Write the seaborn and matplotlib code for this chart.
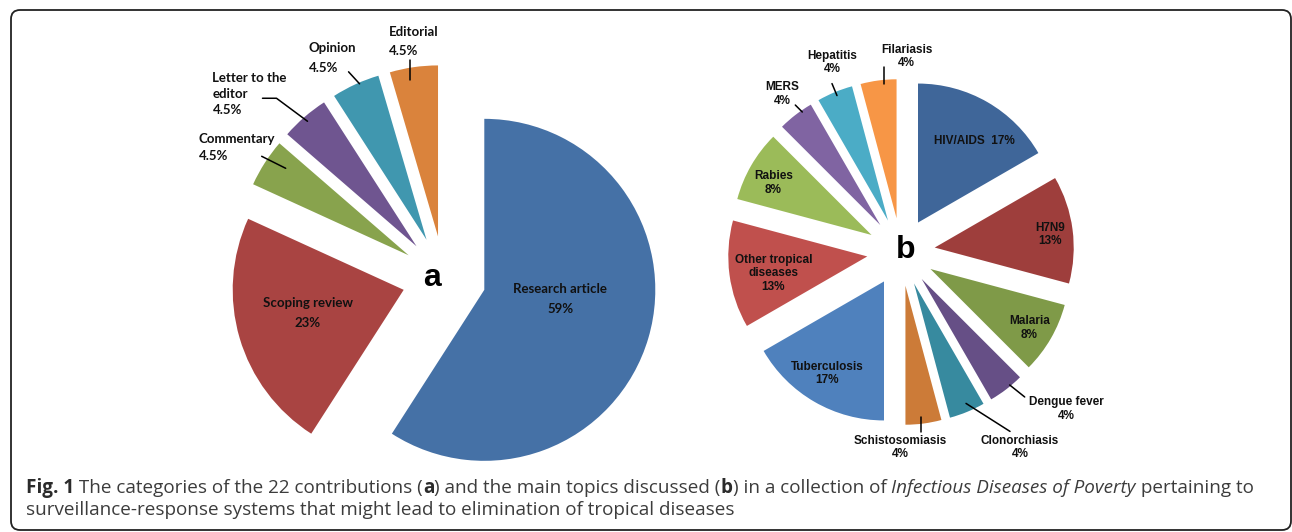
import matplotlib
matplotlib.use("Agg")
import matplotlib.pyplot as plt
import seaborn as sns
import numpy as np
from matplotlib import font_manager
from matplotlib.patches import FancyBboxPatch

# (a) categories of the 22 contributions
cat_labels = ["Research article", "Scoping review", "Commentary",
              "Letter to the\neditor", "Opinion", "Editorial"]
cat_counts = [13, 5, 1, 1, 1, 1]
cat_pct = ["59%", "23%", "4.5%", "4.5%", "4.5%", "4.5%"]
cat_colors = ["#4571A6", "#A94442", "#88A34D", "#6F5590", "#4097AF", "#DA833C"]

# (b) main topics discussed (24 topic mentions)
topic_labels = ["HIV/AIDS", "H7N9", "Malaria", "Dengue fever", "Clonorchiasis",
                "Schistosomiasis", "Tuberculosis", "Other tropical\ndiseases",
                "Rabies", "MERS", "Hepatitis", "Filariasis"]
topic_counts = [4, 3, 2, 1, 1, 1, 4, 3, 2, 1, 1, 1]
topic_pct = ["17%", "13%", "8%", "4%", "4%", "4%",
             "17%", "13%", "8%", "4%", "4%", "4%"]
topic_colors = ["#3F6699", "#9E3E3C", "#7F9A48", "#664F86", "#378A9F", "#CC7B38",
                "#4F81BD", "#C0504D", "#9BBB59", "#8064A2", "#4BACC6", "#F79646"]

W, H = 1292, 532

sns.set_theme(style="white")
installed = {f.name for f in font_manager.fontManager.ttflist}
cap_font = "Open Sans" if "Open Sans" in installed else "DejaVu Sans"
a_font = "Lato" if "Lato" in installed else "DejaVu Sans"
b_font = "Liberation Sans" if "Liberation Sans" in installed else "DejaVu Sans"
plt.rcParams["font.family"] = [b_font, "DejaVu Sans"]

fig = plt.figure(figsize=(W / 100, H / 100), dpi=100)
ax = fig.add_axes([0, 0, 1, 1])

# panel a pie (explode is in data units = pixels here)
wedges_a, _ = ax.pie(cat_counts, colors=sns.color_palette(cat_colors),
                     startangle=90, counterclock=False,
                     explode=[42] * len(cat_counts),
                     center=(444, H - 278), radius=171,
                     wedgeprops=dict(linewidth=0))

# panel b pie
wedges_b, _ = ax.pie(topic_counts, colors=sns.color_palette(topic_colors),
                     startangle=90, counterclock=False,
                     explode=[34] * len(topic_counts),
                     center=(901, H - 252), radius=139,
                     wedgeprops=dict(linewidth=0))

ax.set_xlim(0, W)
ax.set_ylim(0, H)
ax.set_aspect("auto")
ax.axis("off")

# label placement, offsets from each wedge tip (pixels), and leader lines
a_place = [
    dict(off=(76, -9), ha="center", ls=1.75),
    dict(off=(-96, -23), ha="center", ls=1.75),
    dict(off=(-210, 108), ha="left", ls=1.45, lead=[(-147, 99), (-123, 87)]),
    dict(off=(-204, 152), ha="left", ls=1.4,
         lead=[(-154, 148), (-140, 148), (-109, 125)]),
    dict(off=(-118, 182), ha="left", ls=1.75, lead=[(-78, 168), (-67, 156)]),
    dict(off=(-49, 195), ha="left", ls=1.75, lead=[(-28, 176), (-28, 156)]),
]
b_place = [
    dict(off=(56, 82), one_line=True),
    dict(off=(115, 13)),
    dict(off=(99, -59)),
    dict(off=(145, -130), lead=[(88, -106), (103, -118)]),
    dict(off=(106, -164), lead=[(52, -120), (96, -148)]),
    dict(off=(-5, -162), lead=[(16, -131), (16, -146)]),
    dict(off=(-57, -92)),
    dict(off=(-94, -17)),
    dict(off=(-98, 52)),
    dict(off=(-98, 131), lead=[(-85, 120), (-78, 113)]),
    dict(off=(-56, 158), lead=[(-56, 137), (-51, 125)]),
    dict(off=(10, 162), lead=[(-13, 151), (-13, 134)]),
]

label_color = "#111111"

for w, lab, pct, p in zip(wedges_a, cat_labels, cat_pct, a_place):
    cx, cy = w.center
    ax.text(cx + p["off"][0], cy + p["off"][1], lab + "\n" + pct,
            ha=p["ha"], va="center", multialignment=p["ha"],
            fontsize=9.5, fontweight="bold", family=a_font,
            linespacing=p["ls"], color=label_color)
    if "lead" in p:
        xs = [cx + dx for dx, dy in p["lead"]]
        ys = [cy + dy for dx, dy in p["lead"]]
        ax.plot(xs, ys, color="black", lw=1.1)

for w, lab, pct, p in zip(wedges_b, topic_labels, topic_pct, b_place):
    cx, cy = w.center
    txt = lab + "  " + pct if p.get("one_line") else lab + "\n" + pct
    ax.text(cx + p["off"][0], cy + p["off"][1], txt,
            ha="center", va="center", multialignment="center",
            fontsize=8.5, fontweight="bold", family=b_font,
            linespacing=1.15, color=label_color)
    if "lead" in p:
        xs = [cx + dx for dx, dy in p["lead"]]
        ys = [cy + dy for dx, dy in p["lead"]]
        ax.plot(xs, ys, color="black", lw=1.1)

# panel letters
ax.text(432, H - 278, "a", ha="center", va="center", fontsize=23,
        fontweight="bold", family=b_font, color="black")
ax.text(906, H - 250, "b", ha="center", va="center", fontsize=23,
        fontweight="bold", family=b_font, color="black")

# rounded frame
frame = FancyBboxPatch((11, 2), W - 12, H - 12,
                       boxstyle="round,pad=0,rounding_size=9",
                       transform=ax.transData, fill=False,
                       edgecolor="#222222", lw=1.3, clip_on=False)
ax.add_patch(frame)

# caption with mixed styles
line1 = [("Fig. 1", "bold", "normal"),
         (" The categories of the 22 contributions (", "normal", "normal"),
         ("a", "bold", "normal"),
         (") and the main topics discussed (", "normal", "normal"),
         ("b", "bold", "normal"),
         (") in a collection of ", "normal", "normal"),
         ("Infectious Diseases of Poverty", "normal", "italic"),
         (" pertaining to", "normal", "normal")]
line2 = [("surveillance-response systems that might lead to elimination of tropical diseases",
          "normal", "normal")]

renderer = fig.canvas.get_renderer()


def seg_width(s, size, weight, style):
    t = ax.text(0, 0, s + "|", fontsize=size, fontweight=weight,
                fontstyle=style, family=cap_font)
    b = ax.text(0, 0, "|", fontsize=size, fontweight=weight,
                fontstyle=style, family=cap_font)
    wd = t.get_window_extent(renderer).width - b.get_window_extent(renderer).width
    t.remove()
    b.remove()
    return wd


def draw_line(segs, x0, y, size):
    x = x0
    for s, weight, style in segs:
        col = "#2b2b2b" if weight == "bold" else "#3c3c3c"
        ax.text(x, y, s, fontsize=size, fontweight=weight, fontstyle=style,
                family=cap_font, ha="left", va="baseline", color=col)
        x += seg_width(s, size, weight, style)


size = 13.0
total = sum(seg_width(s, size, wt, st) for s, wt, st in line1)
size = size * 1222 / total

draw_line(line1, 26, H - 493, size)
draw_line(line2, 26, H - 515, size)

fig.savefig("out.png", dpi=100)
